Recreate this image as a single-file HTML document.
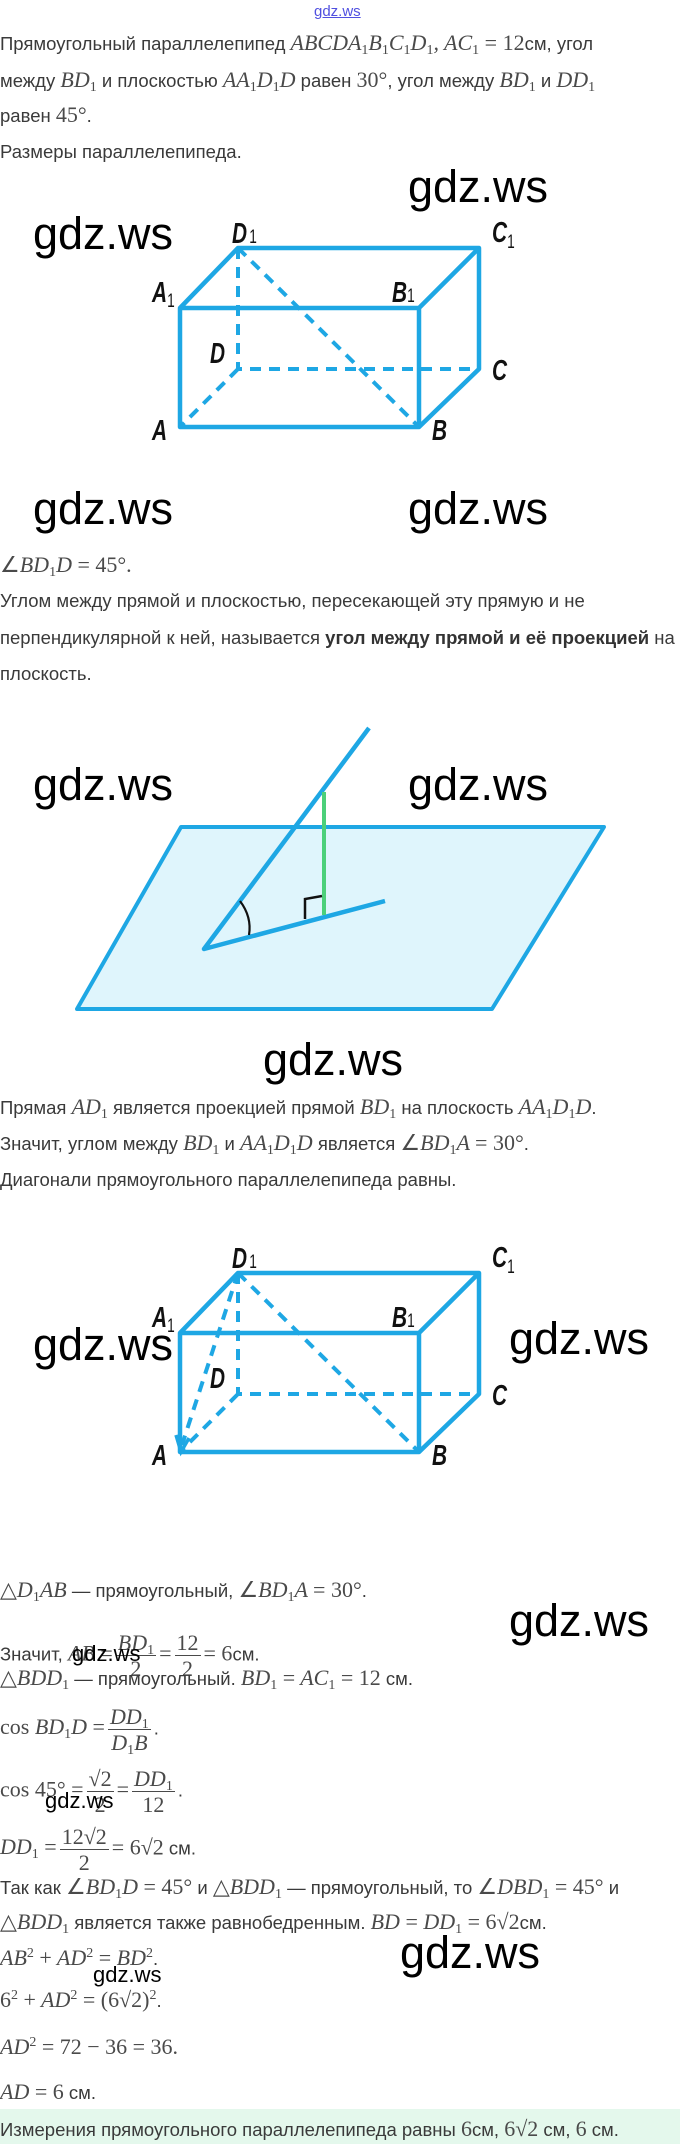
<!DOCTYPE html>
<html><head><meta charset="utf-8">
<style>
body{margin:0;background:#fff;}
#p{position:relative;width:680px;height:2144px;overflow:hidden;font-family:"Liberation Sans",sans-serif;color:#3a3a3a;}
.l{position:absolute;left:0;white-space:nowrap;font-size:18.5px;line-height:24px;height:24px;}
.m{font-family:"Liberation Serif",serif;font-style:italic;font-size:22px;color:#4a4a4a;}
.n{font-family:"Liberation Serif",serif;font-style:normal;font-size:22px;color:#4a4a4a;}
sub{font-size:14px;font-style:normal;vertical-align:-4px;line-height:0;}
sup{font-size:14px;font-style:normal;vertical-align:8px;line-height:0;}
.fr{display:inline-flex;flex-direction:column;vertical-align:middle;text-align:center;line-height:25px;margin:0 3px;}
.fr>span:first-child{border-bottom:1.3px solid #4a4a4a;padding:0 2px;}
.wm{position:absolute;font-family:"Liberation Sans",sans-serif;color:#000;font-size:45px;line-height:1;white-space:nowrap;}
.ws{position:absolute;font-family:"Liberation Sans",sans-serif;color:#000;font-size:22px;line-height:1;white-space:nowrap;}
b{color:#333;}
</style></head><body><div id="p">

<div style="position:absolute;left:314px;top:3px;font-size:15px;color:#5050e0;text-decoration:underline;">gdz.ws</div>

<div class="l" style="top:31px">Прямоугольный параллелепипед <span class="m">ABCDA<sub>1</sub>B<sub>1</sub>C<sub>1</sub>D<sub>1</sub>, AC<sub>1</sub> <span class="n">= 12</span></span>см, угол</div>
<div class="l" style="top:68px">между <span class="m">BD<sub>1</sub></span> и плоскостью <span class="m">AA<sub>1</sub>D<sub>1</sub>D</span> равен <span class="n">30°</span>, угол между <span class="m">BD<sub>1</sub></span> и <span class="m">DD<sub>1</sub></span></div>
<div class="l" style="top:103px">равен <span class="n">45°</span>.</div>
<div class="l" style="top:140px">Размеры параллелепипеда.</div>

<div class="l" style="top:553px"><span class="m"><span class="n">∠</span>BD<sub>1</sub>D <span class="n">= 45°.</span></span></div>
<div class="l" style="top:589px">Углом между прямой и плоскостью, пересекающей эту прямую и не</div>
<div class="l" style="top:626px">перпендикулярной к ней, называется <b>угол между прямой и её проекцией</b> на</div>
<div class="l" style="top:662px">плоскость.</div>

<div class="l" style="top:1095px">Прямая <span class="m">AD<sub>1</sub></span> является проекцией прямой <span class="m">BD<sub>1</sub></span> на плоскость <span class="m">AA<sub>1</sub>D<sub>1</sub>D</span>.</div>
<div class="l" style="top:1131px">Значит, углом между <span class="m">BD<sub>1</sub></span> и <span class="m">AA<sub>1</sub>D<sub>1</sub>D</span> является <span class="m"><span class="n">∠</span>BD<sub>1</sub>A <span class="n">= 30°</span></span>.</div>
<div class="l" style="top:1168px">Диагонали прямоугольного параллелепипеда равны.</div>

<div class="l" style="top:1578px"><span class="m"><span class="n">△</span>D<sub>1</sub>AB</span> — прямоугольный, <span class="m"><span class="n">∠</span>BD<sub>1</sub>A <span class="n">= 30°</span></span>.</div>
<div class="l" style="top:1630px;height:auto">Значит, <span class="m">AB <span class="n">=</span></span><span class="fr m"><span>BD<sub>1</sub></span><span class="n">2</span></span><span class="n">=</span><span class="fr n"><span>12</span><span>2</span></span><span class="n">= 6</span>см.</div>
<div class="l" style="top:1666px"><span class="m"><span class="n">△</span>BDD<sub>1</sub></span> — прямоугольный. <span class="m">BD<sub>1</sub> <span class="n">=</span> AC<sub>1</sub> <span class="n">= 12</span></span> см.</div>
<div class="l" style="top:1704px;height:auto"><span class="m"><span class="n">cos</span> BD<sub>1</sub>D <span class="n">=</span></span><span class="fr m"><span>DD<sub>1</sub></span><span>D<sub>1</sub>B</span></span>.</div>
<div class="l" style="top:1766px;height:auto"><span class="n">cos 45° =</span><span class="fr n"><span>√2</span><span>2</span></span><span class="n">=</span><span class="fr m"><span>DD<sub>1</sub></span><span class="n">12</span></span>.</div>
<div class="l" style="top:1824px;height:auto"><span class="m">DD<sub>1</sub> <span class="n">=</span></span><span class="fr n"><span>12√2</span><span>2</span></span><span class="n">= 6√2</span> см.</div>
<div class="l" style="top:1875px">Так как <span class="m"><span class="n">∠</span>BD<sub>1</sub>D <span class="n">= 45°</span></span> и <span class="m"><span class="n">△</span>BDD<sub>1</sub></span> — прямоугольный, то <span class="m"><span class="n">∠</span>DBD<sub>1</sub> <span class="n">= 45°</span></span> и</div>
<div class="l" style="top:1910px"><span class="m"><span class="n">△</span>BDD<sub>1</sub></span> является также равнобедренным. <span class="m">BD <span class="n">=</span> DD<sub>1</sub> <span class="n">= 6√2</span></span>см.</div>
<div class="l" style="top:1946px"><span class="m">AB<sup>2</sup> <span class="n">+</span> AD<sup>2</sup> <span class="n">=</span> BD<sup>2</sup></span>.</div>
<div class="l" style="top:1988px"><span class="m"><span class="n">6</span><sup>2</sup> <span class="n">+</span> AD<sup>2</sup> <span class="n">= (6√2)</span><sup>2</sup></span>.</div>
<div class="l" style="top:2035px"><span class="m">AD<sup>2</sup> <span class="n">= 72 − 36 = 36.</span></span></div>
<div class="l" style="top:2080px"><span class="m">AD <span class="n">= 6</span></span> см.</div>
<div style="position:absolute;left:0;top:2109px;width:680px;height:35px;background:#e4f8ec;"></div>
<div class="l" style="top:2117px">Измерения прямоугольного параллелепипеда равны <span class="n">6</span>см, <span class="n">6√2</span> см, <span class="n">6</span> см.</div>

<svg width="680" height="2144" style="position:absolute;left:0;top:0" xmlns="http://www.w3.org/2000/svg">
<defs>
<g id="cube" fill="none" stroke="#1ea7e4" stroke-width="4.5" stroke-linejoin="round">
 <path d="M180 427H419V308H180ZM180 308L238 248H479L419 308M479 248V369L419 427"/>
 <path d="M238 248V369H479M238 369L180 427M238 248L419 427" stroke-dasharray="11 8" stroke-width="4"/>
</g>
<g id="lbl" font-family="Liberation Sans, sans-serif" font-weight="bold" font-style="italic" fill="#111">
 <g transform="translate(232 243) scale(0.72 1)"><text font-size="29">D<tspan font-size="19" font-weight="normal" font-style="normal" dx="3">1</tspan></text></g>
 <g transform="translate(492 242) scale(0.72 1)"><text font-size="29">C<tspan font-size="19" font-weight="normal" font-style="normal" dy="6">1</tspan></text></g>
 <g transform="translate(152 302) scale(0.72 1)"><text font-size="29">A<tspan font-size="19" font-weight="normal" font-style="normal" dy="5">1</tspan></text></g>
 <g transform="translate(392 302) scale(0.72 1)"><text font-size="29">B<tspan font-size="19" font-weight="normal" font-style="normal">1</tspan></text></g>
 <g transform="translate(210 363) scale(0.72 1)"><text font-size="29">D</text></g>
 <g transform="translate(492 380) scale(0.72 1)"><text font-size="29">C</text></g>
 <g transform="translate(152 440) scale(0.72 1)"><text font-size="29">A</text></g>
 <g transform="translate(432 440) scale(0.72 1)"><text font-size="29">B</text></g>
</g>
</defs>
<use href="#cube"/><use href="#lbl"/>
<g transform="translate(0 1025)">
 <use href="#cube"/><use href="#lbl"/>
 <path d="M238 248L182 420" fill="none" stroke="#1ea7e4" stroke-width="4" stroke-dasharray="11 8"/>
 <path d="M176 410L181 427L189 413" fill="none" stroke="#1ea7e4" stroke-width="3.5"/>
</g>
<path d="M181 827H604L492 1009H77Z" fill="#dff5fc" stroke="#1ea7e4" stroke-width="4" stroke-linejoin="round"/>
<path d="M369 728L204 949L385 901" fill="none" stroke="#1ea7e4" stroke-width="4.5" stroke-linejoin="round"/>
<line x1="324" y1="792" x2="324" y2="915" stroke="#4cd07a" stroke-width="4"/>
<path d="M305 919V899L322 896" fill="none" stroke="#111" stroke-width="2.5"/>
<path d="M240 901Q252 917 249 935" fill="none" stroke="#111" stroke-width="2.2"/>
</svg>

<div class="wm" style="left:408px;top:164px">gdz.ws</div>
<div class="wm" style="left:33px;top:211px">gdz.ws</div>
<div class="wm" style="left:33px;top:486px">gdz.ws</div>
<div class="wm" style="left:408px;top:486px">gdz.ws</div>
<div class="wm" style="left:33px;top:762px">gdz.ws</div>
<div class="wm" style="left:408px;top:762px">gdz.ws</div>
<div class="wm" style="left:263px;top:1037px">gdz.ws</div>
<div class="wm" style="left:33px;top:1322px">gdz.ws</div>
<div class="wm" style="left:509px;top:1316px">gdz.ws</div>
<div class="wm" style="left:509px;top:1598px">gdz.ws</div>
<div class="wm" style="left:400px;top:1930px">gdz.ws</div>
<div class="ws" style="left:72px;top:1643px">gdz.ws</div>
<div class="ws" style="left:45px;top:1790px">gdz.ws</div>
<div class="ws" style="left:93px;top:1964px">gdz.ws</div>
</div></body></html>
